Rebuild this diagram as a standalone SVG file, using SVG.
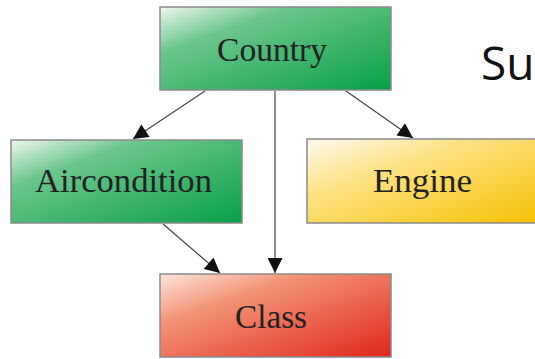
<svg xmlns="http://www.w3.org/2000/svg" width="535" height="359" viewBox="0 0 535 359">
<style>
.box{stroke:#8a8a8a;stroke-width:1.5}
.lbl{font-family:"Liberation Serif","DejaVu Serif",serif;font-size:33px;fill:#222;text-anchor:middle}
.edge{stroke:#444;stroke-width:1.2;fill:none;marker-end:url(#ah)}
</style>
<defs>
<linearGradient id="gGreen" x1="0" y1="0" x2="1" y2="1">
<stop offset="0" stop-color="#eef7ee"/>
<stop offset="0.28" stop-color="#6cc68c"/>
<stop offset="1" stop-color="#06a046"/>
</linearGradient>
<linearGradient id="gYellow" x1="0" y1="0" x2="1" y2="1">
<stop offset="0" stop-color="#fffaf0"/>
<stop offset="0.35" stop-color="#fde283"/>
<stop offset="1" stop-color="#f5c000"/>
</linearGradient>
<linearGradient id="gRed" x1="0" y1="0" x2="1" y2="1">
<stop offset="0" stop-color="#fde6dc"/>
<stop offset="0.3" stop-color="#f39478"/>
<stop offset="1" stop-color="#e0261c"/>
</linearGradient>
<marker id="ah" viewBox="0 0 10 10" refX="10" refY="5" markerWidth="18" markerHeight="15" markerUnits="userSpaceOnUse" orient="auto">
<path d="M0,0 L10,5 L0,10 z" fill="#111"/>
</marker>
</defs>
<g id="edges">
<line class="edge" x1="205" y1="91" x2="133" y2="139"/>
<line class="edge" x1="346" y1="91" x2="413" y2="138"/>
<line class="edge" x1="275" y1="91" x2="275" y2="273"/>
<line class="edge" x1="163" y1="224" x2="220" y2="273"/>
</g>
<g id="country">
<rect class="box" x="160" y="7" width="231" height="83" fill="url(#gGreen)"/>
<text class="lbl" x="272" y="61" textLength="110" lengthAdjust="spacingAndGlyphs">Country</text>
</g>
<g id="aircondition">
<rect class="box" x="11" y="140" width="231" height="83" fill="url(#gGreen)"/>
<text class="lbl" x="123.5" y="192" textLength="177" lengthAdjust="spacingAndGlyphs">Aircondition</text>
</g>
<g id="engine">
<rect class="box" x="307" y="139" width="236" height="84" fill="url(#gYellow)"/>
<text class="lbl" x="422.5" y="192" textLength="99" lengthAdjust="spacingAndGlyphs">Engine</text>
</g>
<g id="class">
<rect class="box" x="160" y="274" width="231" height="83" fill="url(#gRed)"/>
<text class="lbl" x="271" y="328" textLength="72" lengthAdjust="spacingAndGlyphs">Class</text>
</g>
<text x="481" y="80" style="font-family:'Open Sans','Noto Sans',sans-serif;font-size:46px;fill:#111">Su</text>
</svg>
